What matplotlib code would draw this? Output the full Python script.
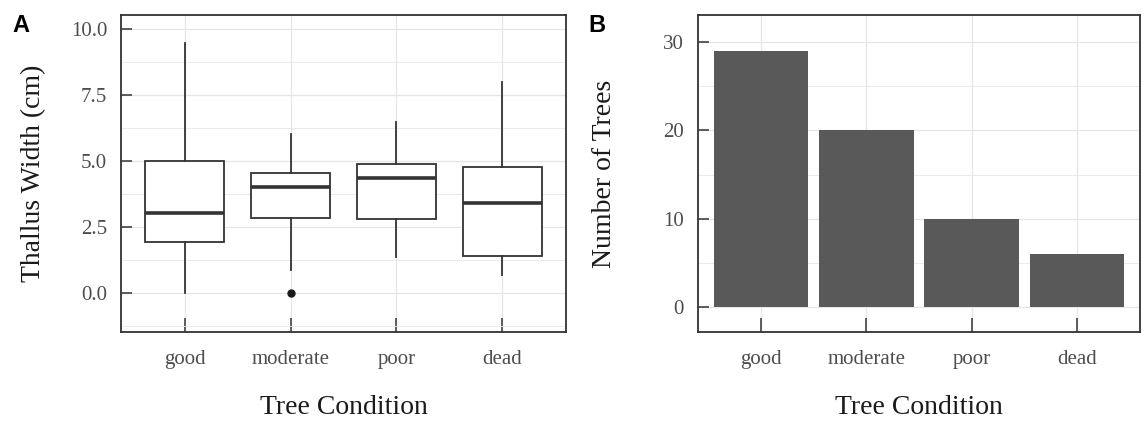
import matplotlib
matplotlib.use("Agg")
import matplotlib.pyplot as plt
from matplotlib.ticker import MultipleLocator, AutoMinorLocator

# tree condition categories
conditions = ["good", "moderate", "poor", "dead"]

# panel A: thallus width box statistics (cm)
whisker_low = [0.0, 0.87, 1.35, 0.67]
q1 = [1.94, 2.83, 2.79, 1.41]
median = [3.04, 4.03, 4.34, 3.40]
q3 = [5.0, 4.53, 4.89, 4.78]
whisker_high = [9.48, 6.02, 6.49, 8.0]
outliers = [[], [0.0], [], []]

# panel B: number of trees per condition
n_trees = [29, 20, 10, 6]

plt.rcParams["font.family"] = ["Liberation Serif", "DejaVu Serif"]

dark = "#333333"
grid_c = "#E6E6E6"
tick_c = "#4D4D4D"

fig = plt.figure(figsize=(11.44, 4.22), dpi=100)
W, H = 1144, 422


def make_axes(x0, x1, y0, y1):
    return fig.add_axes([x0 / W, 1 - y1 / H, (x1 - x0) / W, (y1 - y0) / H])


def style(ax):
    for s in ax.spines.values():
        s.set_color(dark)
        s.set_linewidth(1.3)
    ax.set_axisbelow(True)
    ax.grid(True, which="major", color=grid_c, linewidth=0.9)
    ax.grid(True, which="minor", axis="y", color=grid_c, linewidth=0.6)
    ax.tick_params(axis="x", direction="in", length=10, width=1.1, color=dark,
                   labelsize=15, labelcolor=tick_c, pad=13)
    ax.tick_params(axis="y", direction="in", length=8, width=1.1, color=dark,
                   labelsize=15, labelcolor=tick_c, pad=10)
    ax.tick_params(axis="y", which="minor", length=0)
    ax.set_xticks(range(len(conditions)))
    ax.set_xticklabels(conditions)
    ax.set_xlim(-0.6, len(conditions) - 0.4)
    ax.set_xlabel("Tree Condition", fontsize=20, color="#1A1A1A", labelpad=19)


# ---- panel A
axA = make_axes(121, 566, 15, 332)
stats = []
for i, c in enumerate(conditions):
    stats.append(dict(label=c, whislo=whisker_low[i], q1=q1[i], med=median[i],
                      q3=q3[i], whishi=whisker_high[i], fliers=outliers[i]))
axA.bxp(stats, positions=range(len(conditions)), widths=0.75, showcaps=False,
        patch_artist=True,
        boxprops=dict(facecolor="white", edgecolor=dark, linewidth=1.3),
        whiskerprops=dict(color=dark, linewidth=1.3),
        medianprops=dict(color=dark, linewidth=2.6, solid_capstyle="butt"),
        flierprops=dict(marker="o", markerfacecolor="#1A1A1A",
                        markeredgecolor="#1A1A1A", markersize=5))
axA.set_ylim(-1.48, 10.53)
axA.yaxis.set_major_locator(MultipleLocator(2.5))
axA.yaxis.set_minor_locator(AutoMinorLocator(2))
axA.set_yticks([0, 2.5, 5, 7.5, 10])
axA.set_yticklabels(["0.0", "2.5", "5.0", "7.5", "10.0"])
style(axA)
axA.set_ylabel("Thallus Width (cm)", fontsize=20, color="#1A1A1A", labelpad=18)

# ---- panel B
axB = make_axes(698, 1140, 15, 332)
axB.bar(range(len(conditions)), n_trees, width=0.9, color="#595959", zorder=2)
axB.set_ylim(-2.83, 33.07)
axB.yaxis.set_major_locator(MultipleLocator(10))
axB.yaxis.set_minor_locator(AutoMinorLocator(2))
style(axB)
axB.set_ylabel("Number of Trees", fontsize=20, color="#1A1A1A", labelpad=33)

# panel letters
fig.text(21 / W, 1 - 26 / H, "A", fontsize=17, fontweight="bold",
         family="Liberation Sans", ha="center", va="center")
fig.text(597 / W, 1 - 26 / H, "B", fontsize=17, fontweight="bold",
         family="Liberation Sans", ha="center", va="center")

fig.savefig("out.png", dpi=100)
